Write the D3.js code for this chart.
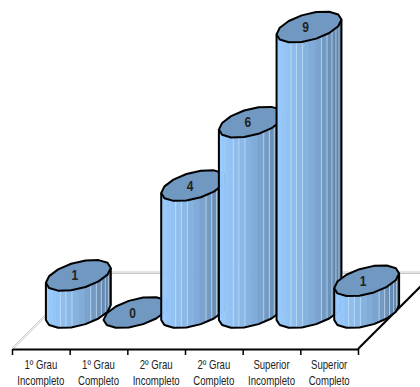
<!DOCTYPE html>
<html>
<head>
<meta charset="utf-8">
<script src="https://cdn.jsdelivr.net/npm/d3@7"></script>
<style>
  html, body { margin: 0; padding: 0; background: #fff; }
  svg { display: block; }
  text { font-family: "Liberation Sans", sans-serif; }
</style>
</head>
<body>
<div id="chart"></div>
<script>
const categories = [
    ['1º Grau', 'Incompleto'],
    ['1º Grau', 'Completo'],
    ['2º Grau', 'Incompleto'],
    ['2º Grau', 'Completo'],
    ['Superior', 'Incompleto'],
    ['Superior', 'Completo']
];
// first bar is a bit taller than the last although both are labelled 1
const values = [1.17, 0, 4, 6, 9, 1];

const width = 420;
const height = 387;
const axisY = 349;
const depth = 76; // floor depth, drawn at 45 degrees
const radiusX = 28.5;
const radiusDepth = 15.5;
const sides = 14;
const squeeze = 0.8; // the original font is condensed
const stripes = [5, 6, 7, 10, 11, 12, 13, 14]; // facets with a light edge

const svg = d3.select('#chart')
    .append('svg')
    .attr('width', width)
    .attr('height', height);

// x axis
const x = d3.scaleBand()
    .domain(d3.range(categories.length))
    .range([12, 358]);

const xEdge = d3.scaleLinear()
    .domain([0, categories.length])
    .range([12, 358]);

// y axis, measured from the middle of the floor
const y = d3.scaleLinear()
    .domain([0, 9])
    .range([312.5, 27]);

// floor lines
const floor = svg.append('g');
[0, 1.5].forEach((o) => {
    floor.append('line')
        .attr('x1', 12 + o).attr('y1', axisY - 1 + o * 0.4)
        .attr('x2', 12 + depth + o).attr('y2', axisY - 1 - depth + o * 0.4)
        .attr('stroke', '#c8c8c8');
    floor.append('line')
        .attr('x1', 12 + depth).attr('y1', axisY - depth - 1 + o)
        .attr('x2', width).attr('y2', axisY - depth - 1 + o)
        .attr('stroke', '#c8c8c8');
});

floor.append('line')
    .attr('x1', 358).attr('y1', axisY)
    .attr('x2', 358 + depth).attr('y2', axisY - depth)
    .attr('stroke', '#000')
    .attr('stroke-width', 2);

// draw x axis
const axis = svg.append('g')
    .attr('transform', `translate(0,${axisY})`)
    .call(d3.axisBottom(xEdge).ticks(categories.length).tickSize(6).tickSizeOuter(0).tickFormat(''));
axis.selectAll('line').attr('stroke', '#000').attr('stroke-width', 1.5);
axis.select('.domain').attr('stroke', '#000').attr('stroke-width', 2);

// category labels
svg.selectAll('.cat')
    .data(categories)
    .enter()
    .append('g')
    .attr('class', 'cat')
    .attr('transform', (d, i) => `translate(${x(i) + x.bandwidth() / 2},369) scale(${squeeze},1)`)
    .each(function (d) {
        d.forEach((label, k) => {
            d3.select(this).append('text')
                .attr('y', k * 16)
                .attr('text-anchor', 'middle')
                .attr('font-size', 12)
                .attr('fill', '#222')
                .text(label);
        });
    });

// point on the rim of a cylinder, t = 0 is the right side of the floor circle
const rim = (cx, cy, t) => [
    cx + radiusX * Math.cos(t) + radiusDepth * Math.sin(t),
    cy - radiusDepth * Math.sin(t)
];

const sideColor = d3.scaleLinear()
    .domain([0, 0.55, 1])
    .range(['#99ccff', '#7fa8d4', '#587a9e']);

const tAngle = Math.atan2(radiusDepth, radiusX);
const line = d3.line();
const step = 2 * Math.PI / sides;
const facets = 16;

// each bar covers the one before it
const bars = svg.selectAll('.bar')
    .data(values)
    .enter()
    .append('g')
    .attr('class', 'bar');

bars.each(function (v, i) {
    const g = d3.select(this);
    const cx = x(i) + x.bandwidth() / 2 + 37.5;
    const top = y(v);
    const base = y(0);
    // front half of the rim, from the left silhouette point to the right one
    const tStart = Math.PI + tAngle;

    if (v > 0) {
        d3.range(facets).forEach((k) => {
            const t0 = tStart + k * Math.PI / facets;
            const t1 = t0 + Math.PI / facets;
            const a = rim(cx, base, t0);
            const b = rim(cx, base, t1);
            const c = rim(cx, top, t1);
            const d = rim(cx, top, t0);
            const shade = (a[0] - (cx - 32.5)) / 65;
            g.append('path')
                .attr('d', line([a, b, c, d]) + 'Z')
                .attr('fill', sideColor(shade))
                .attr('stroke', sideColor(shade))
                .attr('stroke-width', 0.6);
            if (stripes.includes(k)) {
                g.append('path')
                    .attr('d', line([a, d]))
                    .attr('stroke', '#cfe4f8')
                    .attr('stroke-opacity', 0.7)
                    .attr('stroke-width', 1);
            }
        });
        // outline of the side
        const front = d3.range(sides / 2 + 1).map((k) => rim(cx, base, tStart + k * step));
        g.append('path')
            .attr('d', line([rim(cx, top, tStart), ...front, rim(cx, top, tStart + Math.PI)]))
            .attr('fill', 'none')
            .attr('stroke', '#000')
            .attr('stroke-width', 2)
            .attr('stroke-linejoin', 'round');
    }

    // top
    const lid = d3.range(sides).map((k) => rim(cx, top, tAngle + k * step));
    g.append('path')
        .attr('d', line(lid) + 'Z')
        .attr('fill', '#7098c0')
        .attr('stroke', '#000')
        .attr('stroke-width', 2)
        .attr('stroke-linejoin', 'round');
});

// value labels on the tops
svg.selectAll('.val')
    .data(values)
    .enter()
    .append('text')
    .attr('class', 'val')
    .attr('transform', (d, i) => `translate(${x(i) + x.bandwidth() / 2 + 34},${y(d) + 5}) scale(${squeeze},1)`)
    .attr('text-anchor', 'middle')
    .attr('font-size', 15)
    .attr('font-weight', 'bold')
    .attr('fill', '#222')
    .text((d) => d3.format('.0f')(d));
</script>
</body>
</html>
